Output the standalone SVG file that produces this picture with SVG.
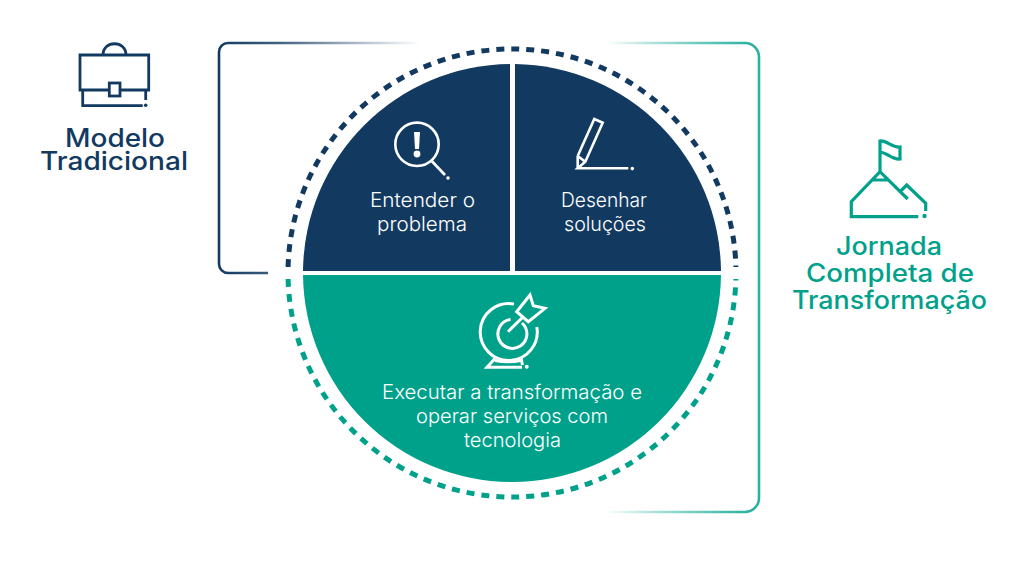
<svg xmlns="http://www.w3.org/2000/svg" width="1024" height="573" viewBox="0 0 1024 573">
<style>
.navy{fill:#123a61}.teal{fill:#00a18b}
.in{fill:none;stroke:#fff;stroke-width:2.6}
.ti{fill:none;stroke:#fff;stroke-width:3}
.nl{fill:none;stroke:#123a61;stroke-width:2.8}
.tl{fill:none;stroke:#00a18b;stroke-width:3.2}
.t{font-family:"Inter","Liberation Sans",sans-serif;text-anchor:middle}
.b{font-size:25.5px;font-weight:500}
.w{font-size:20px;font-weight:300;fill:#fff}
</style>
<defs>
<linearGradient id="gl" gradientUnits="userSpaceOnUse" x1="219" y1="0" x2="420" y2="0"><stop offset="0" stop-color="#123a61"/><stop offset=".3" stop-color="#123a61" stop-opacity=".8"/><stop offset="1" stop-color="#123a61" stop-opacity="0"/></linearGradient>
<linearGradient id="gr" gradientUnits="userSpaceOnUse" x1="605" y1="0" x2="750" y2="0"><stop offset="0" stop-color="#00a18b" stop-opacity="0"/><stop offset="1" stop-color="#2ab29f"/></linearGradient>
</defs>
<rect width="1024" height="573" fill="#fff"/>
<g id="connectors" fill="none" stroke-width="2.6">
<path d="M420 43H228a9 9 0 0 0-9 9V264a9 9 0 0 0 9 9H268" stroke="url(#gl)"/>
<path d="M605 43H745a14 14 0 0 1 14 14V498a14 14 0 0 1-14 14H605" stroke="url(#gr)"/>
</g>
<g id="ring" fill="none" stroke-width="5" stroke-dasharray="8 7">
<path d="M288.080 267A224 224 0 0 1 735.920 267" stroke="#123a61"/>
<path d="M288.080 279A224 224 0 0 0 735.920 279" stroke="#00a18b"/>
</g>
<g id="node-entender">
<path class="navy" d="M303 271A209 209 0 0 1 510 64V271Z"/>
<circle class="in" cx="417" cy="144.3" r="21.7"/>
<path class="in" d="M431.7 161L445 175"/>
<circle cx="448" cy="178" r="1.8" fill="#fff"/>
<path d="M414 132H420L419 149H415Z" fill="#fff"/>
<circle cx="417" cy="154" r="3.4" fill="#fff"/>
<text class="t w" x="422.500" y="207" textLength="105" lengthAdjust="spacingAndGlyphs">Entender o</text>
<text class="t w" x="422" y="231" textLength="90" lengthAdjust="spacingAndGlyphs">problema</text>
</g>
<g id="node-desenhar">
<path class="navy" d="M515 64A209 209 0 0 1 721 271H515Z"/>
<path class="in" d="M577.700 156L594.300 119L602.700 122.700L585.300 161.700L577.700 168.300H628.300M577.700 156V168.300M577.700 156L585.300 161.700"/>
<circle cx="632.300" cy="168.600" r="1.800" fill="#fff"/>
<text class="t w" x="604" y="207" textLength="86" lengthAdjust="spacingAndGlyphs">Desenhar</text>
<text class="t w" x="605" y="231" textLength="82" lengthAdjust="spacingAndGlyphs">soluções</text>
</g>
<g id="node-executar">
<path class="teal" d="M303.010 275H720.990A209 209 0 0 1 303.010 275Z"/>
<path class="ti" d="M514 304A28.500 28.500 0 1 0 536.800 327"/>
<path class="ti" d="M510.500 319.500A14.500 14.500 0 1 0 522 323"/>
<path class="ti" d="M508 331.700L524 316M516.700 311.700L530 295L533.300 305.700L545 308.300L528.300 321.700Z"/>
<path class="ti" d="M495 358.500L487 367.300H522M495 360.500Q508 363 521 360.500M521 358L522.500 365"/>
<circle cx="526.700" cy="366.700" r="2" fill="#fff"/>
<text class="t w" x="512" y="399" textLength="260" lengthAdjust="spacingAndGlyphs">Executar a transformação e</text>
<text class="t w" x="512" y="423" textLength="192" lengthAdjust="spacingAndGlyphs">operar serviços com</text>
<text class="t w" x="512.500" y="447" textLength="97" lengthAdjust="spacingAndGlyphs">tecnologia</text>
</g>
<g id="node-modelo">
<path class="nl" d="M80 55H148.700V90H80ZM103 55C103 40 126 40 126 55M82.700 90V105.700H142.700M145.700 90V100"/>
<rect class="nl" x="109.300" y="83" width="10.700" height="13" style="fill:#fff"/>
<circle cx="145.700" cy="105.300" r="1.800" fill="#123a61"/>
<text class="t b navy" x="115" y="147" textLength="100" lengthAdjust="spacingAndGlyphs">Modelo</text>
<text class="t b navy" x="114" y="170" textLength="148" lengthAdjust="spacingAndGlyphs">Tradicional</text>
</g>
<g id="node-jornada">
<path class="tl" d="M880 172V141C887 140 892 148 900 147V159C892 160 888 153 880 152M918.300 216.700H851.300V201.700L880 171.700L907.700 199M900.700 191L906.700 185L925.700 203.300V211M872.700 180H888.300"/>
<circle cx="924.500" cy="216" r="2.200" fill="#00a18b"/>
<text class="t b teal" x="889" y="255" textLength="106" lengthAdjust="spacingAndGlyphs">Jornada</text>
<text class="t b teal" x="890" y="282" textLength="168" lengthAdjust="spacingAndGlyphs">Completa de</text>
<text class="t b teal" x="889.500" y="309" textLength="195" lengthAdjust="spacingAndGlyphs">Transformação</text>
</g>
</svg>
